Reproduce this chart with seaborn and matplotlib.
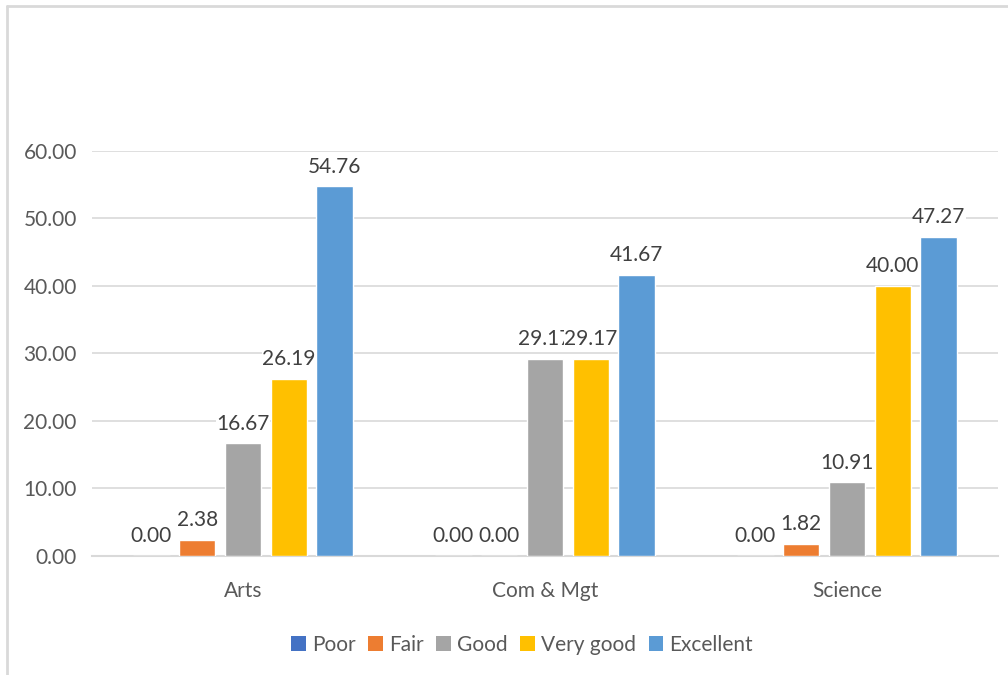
import pandas as pd
import numpy as np
import matplotlib.pyplot as plt
import seaborn as sns
from matplotlib.lines import Line2D
from matplotlib.patches import Patch

# data
streams = ["Arts", "Com & Mgt", "Science"]
ratings = ["Poor", "Fair", "Good", "Very good", "Excellent"]
poor = [0.00, 0.00, 0.00]
fair = [2.38, 0.00, 1.82]
good = [16.67, 29.17, 10.91]
very_good = [26.19, 29.17, 40.00]
excellent = [54.76, 41.67, 47.27]
colors = ["#4472C4", "#ED7D31", "#A5A5A5", "#FFC000", "#5B9BD5"]

rows = []
for r, vals in zip(ratings, [poor, fair, good, very_good, excellent]):
    for s, v in zip(streams, vals):
        rows.append({"Stream": s, "Rating": r, "Value": v})
df = pd.DataFrame(rows)

sns.set_theme(style="white")
plt.rcParams['font.family'] = ['Lato', 'DejaVu Sans']
txt = "#595959"
fs = 15

fig = plt.figure(figsize=(10.08, 6.75), dpi=100)
ax = fig.add_axes([0.0913, 0.1763, 0.8988, 0.6000])

sns.barplot(data=df, x="Stream", y="Value", hue="Rating", hue_order=ratings,
            order=streams, palette=colors, width=0.76, gap=0.2,
            saturation=1, ax=ax, legend=False, zorder=3)

ax.set_ylim(0, 60)
ax.set_xlim(-0.5, 2.5)
ax.set_yticks(np.arange(0, 61, 10))
ax.set_yticklabels([f"{t:.2f}" for t in np.arange(0, 61, 10)])
ax.yaxis.grid(True, color="#d9d9d9", linewidth=1.2, zorder=0)
ax.set_axisbelow(True)
for side in ["top", "right", "left"]:
    ax.spines[side].set_visible(False)
ax.spines["bottom"].set_color("#d9d9d9")
ax.spines["bottom"].set_linewidth(1.5)
ax.tick_params(axis="y", length=0, pad=11, labelsize=fs, labelcolor=txt)
ax.tick_params(axis="x", length=0, pad=18, labelsize=fs, labelcolor=txt)
ax.set_xlabel("")
ax.set_ylabel("")

for cont in ax.containers:
    labels = ax.bar_label(cont, fmt="%.2f", padding=7, fontsize=fs,
                          color="#404040", zorder=5)
    for t in labels:
        t.set_bbox(dict(facecolor="white", edgecolor="none", pad=0.5))
        t.set_clip_on(False)

handles = [Patch(facecolor=c, edgecolor="none") for c in colors]
fig.legend(handles, ratings, loc="center", bbox_to_anchor=(0.518, 0.045),
           ncol=5, frameon=False, fontsize=fs, labelcolor=txt,
           handlelength=0.7, handleheight=0.7, handletextpad=0.3,
           columnspacing=0.6)

# chart area border (left and top visible)
fig.add_artist(Line2D([7 / 1008, 7 / 1008], [0, 1 - 6 / 675],
                      color="#d9d9d9", linewidth=2, transform=fig.transFigure))
fig.add_artist(Line2D([7 / 1008, 1], [1 - 6 / 675, 1 - 6 / 675],
                      color="#d9d9d9", linewidth=2, transform=fig.transFigure))

fig.savefig("out.png", dpi=100, facecolor="white")
